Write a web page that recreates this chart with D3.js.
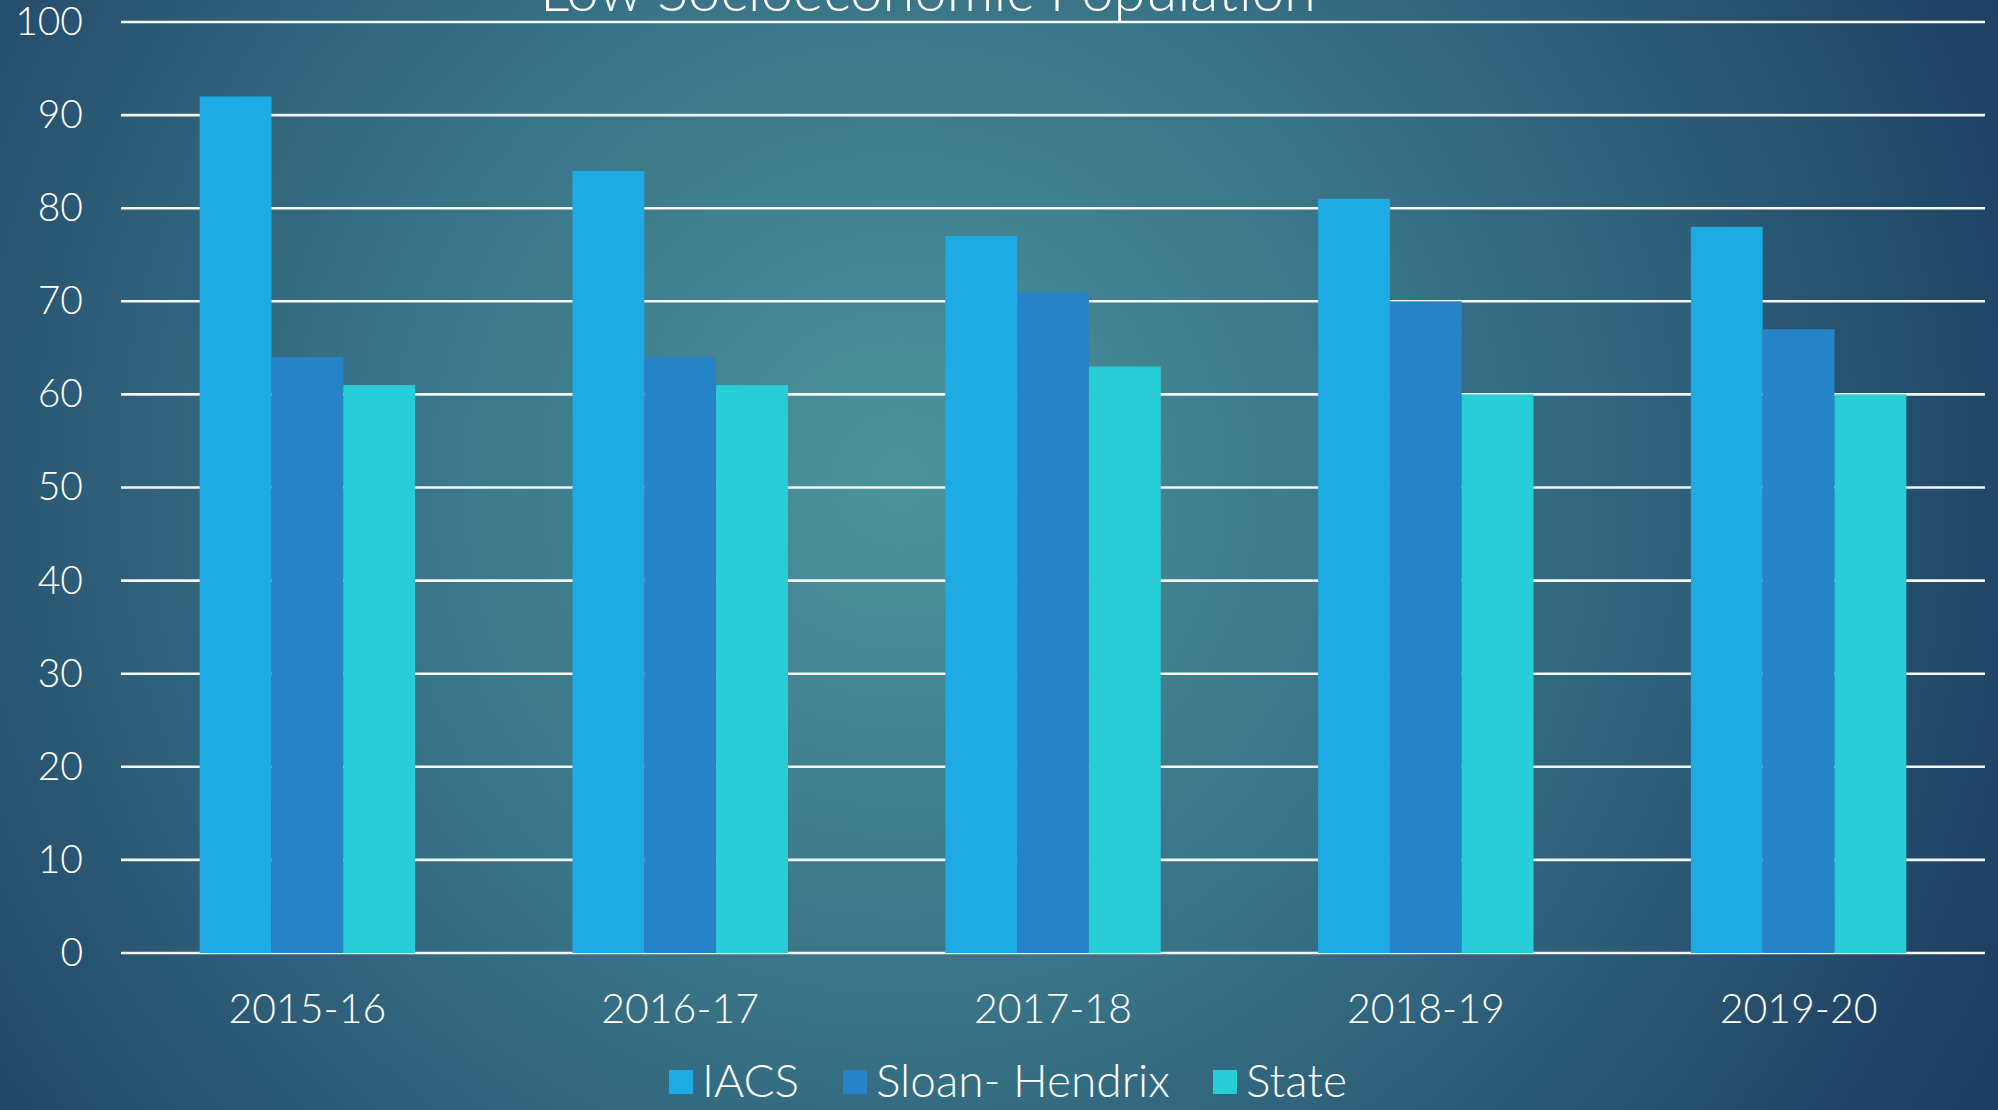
<!doctype html>
<html lang="en">
<head>
  <meta charset="utf-8">
  <title>Low Socioeconomic Population - D3</title>
  <style>
    html, body { margin: 0; padding: 0; overflow: hidden; }
    svg { display: block; font-family: Lato, "Noto Sans", sans-serif; font-weight: 300; }
  </style>
</head>
<body>
  <svg></svg>
  <script src="https://cdn.jsdelivr.net/npm/d3@7"></script>
  <script>
    // data
    var categories = ['2015-16', '2016-17', '2017-18', '2018-19', '2019-20'];
    var seriesNames = ['IACS', 'Sloan- Hendrix', 'State'];
    var iacs = [92, 84, 77, 81, 78];
    var sloanHendrix = [64, 64, 71, 70, 67];
    var state = [61, 61, 63, 60, 60];
    var yTicks = [0, 10, 20, 30, 40, 50, 60, 70, 80, 90, 100];
    var title = 'Low Socioeconomic Population';

    var seriesValues = [iacs, sloanHendrix, state];
    var colors = ['#1eabe4', '#2783c7', '#27ced7'];

    // 画布参数 (plotTop: "top" is taken by window.top)
    var width = 1998, height = 1110;
    var plotLeft = 121, plotRight = 1985, plotTop = 22, plotBottom = 953;

    var svg = d3.select('svg').attr('width', width).attr('height', height);

    // background
    var defs = svg.append('defs');
    var grad = defs.append('radialGradient').attr('id', 'bg')
      .attr('gradientUnits', 'userSpaceOnUse')
      .attr('cx', 900).attr('cy', 480).attr('r', 1250);
    grad.append('stop').attr('offset', '0%').attr('stop-color', '#4c939b');
    grad.append('stop').attr('offset', '45%').attr('stop-color', '#377185');
    grad.append('stop').attr('offset', '100%').attr('stop-color', '#1c3b60');
    svg.append('rect').attr('width', width).attr('height', height).attr('fill', 'url(#bg)');

    // scales
    var x0 = d3.scaleBand().domain(categories).range([plotLeft, plotRight]).paddingInner(0.422).paddingOuter(0.211);
    var x1 = d3.scaleBand().domain(seriesNames).range([0, x0.bandwidth()]);
    var y = d3.scaleLinear().domain([0, 100]).range([plotBottom, plotTop]);

    // gridlines
    svg.append('g').selectAll('line').data(yTicks).enter().append('line')
      .attr('x1', plotLeft).attr('x2', plotRight)
      .attr('y1', function (d) { return y(d); })
      .attr('y2', function (d) { return y(d); })
      .attr('stroke', '#f4f6f7').attr('stroke-width', 2.6);

    // y axis labels
    var yAxis = d3.axisLeft(y).tickValues(yTicks).tickSize(0).tickPadding(0);
    var gy = svg.append('g').attr('transform', 'translate(83,0)').call(yAxis);
    gy.select('.domain').remove();
    gy.selectAll('text').attr('fill', '#ffffff').attr('font-size', 39)
      .attr('font-family', 'Lato, sans-serif').attr('font-weight', 300);

    // bars
    var groups = svg.append('g').selectAll('g').data(categories).enter().append('g')
      .attr('transform', function (d) { return 'translate(' + x0(d) + ',0)'; });
    groups.selectAll('rect')
      .data(function (d, i) {
        return seriesNames.map(function (s, k) { return { s: s, v: seriesValues[k][i], k: k }; });
      })
      .enter().append('rect')
      .attr('x', function (d) { return x1(d.s); })
      .attr('width', x1.bandwidth())
      .attr('y', function (d) { return y(d.v); })
      .attr('height', function (d) { return y(0) - y(d.v); })
      .attr('fill', function (d) { return colors[d.k]; });

    // x axis labels
    var xAxis = d3.axisBottom(x0).tickSize(0).tickPadding(0);
    var gx = svg.append('g').attr('transform', 'translate(0,1023)').call(xAxis);
    gx.select('.domain').remove();
    gx.selectAll('text').attr('fill', '#ffffff').attr('font-size', 41).attr('dy', 0)
      .attr('font-family', 'Lato, sans-serif').attr('font-weight', 300);

    // title (cut off at the top)
    svg.append('text').text(title)
      .attr('x', 928).attr('y', 11)
      .attr('text-anchor', 'middle')
      .attr('fill', '#ffffff').attr('font-size', 58);

    // legend
    var legendX = [669, 843, 1213];
    var legend = svg.append('g').selectAll('g').data(seriesNames).enter().append('g')
      .attr('transform', function (d, i) { return 'translate(' + legendX[i] + ',1082)'; });
    legend.append('rect').attr('x', 0).attr('y', -12).attr('width', 24).attr('height', 24)
      .attr('fill', function (d, i) { return colors[i]; });
    legend.append('text').text(function (d) { return d; })
      .attr('x', 33).attr('y', 15)
      .attr('fill', '#ffffff').attr('font-size', 46);
  </script>
</body>
</html>
